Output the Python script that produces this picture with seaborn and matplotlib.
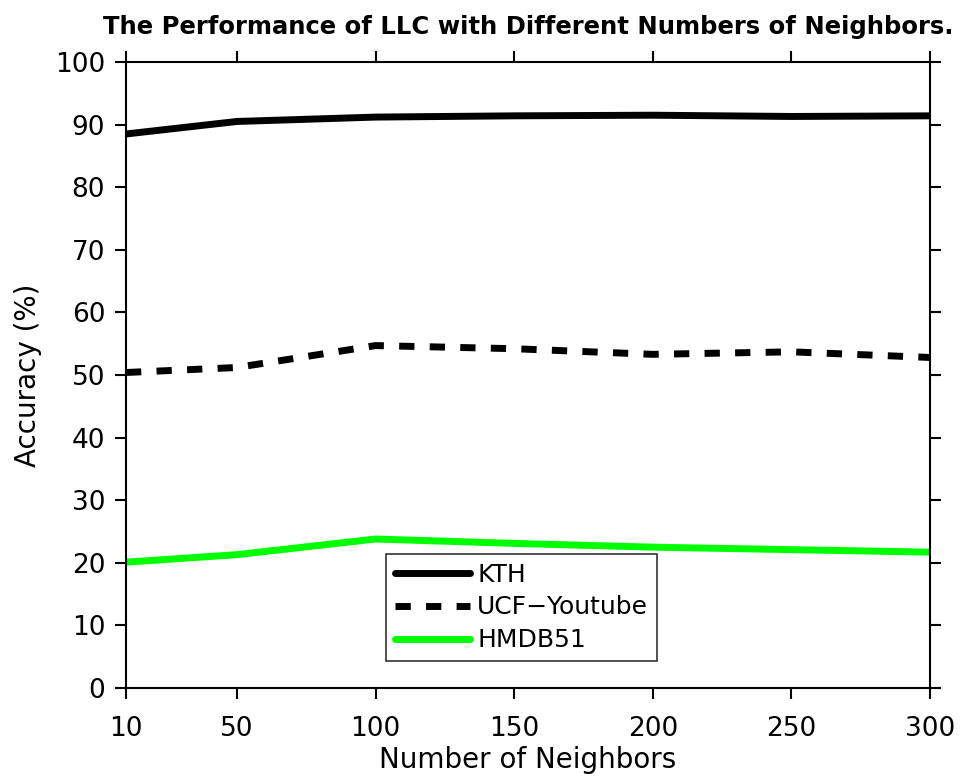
import matplotlib
matplotlib.use("Agg")
import matplotlib.pyplot as plt
import seaborn as sns
import pandas as pd

neighbors = [10, 50, 100, 150, 200, 250, 300]
kth = [88.5, 90.5, 91.2, 91.4, 91.5, 91.3, 91.4]
ucf = [50.4, 51.2, 54.7, 54.2, 53.3, 53.7, 52.8]
hmdb = [20.1, 21.3, 23.8, 23.1, 22.5, 22.1, 21.7]
series_names = ["KTH", "UCF\u2212Youtube", "HMDB51"]

df = pd.DataFrame({
    "Number of Neighbors": neighbors * 3,
    "Accuracy": kth + ucf + hmdb,
    "Dataset": [series_names[0]] * 7 + [series_names[1]] * 7 + [series_names[2]] * 7,
})

sns.set_style("white")
plt.rcParams["font.family"] = ["DejaVu Sans"]
plt.rcParams["text.color"] = "black"
plt.rcParams["axes.labelcolor"] = "black"

fig = plt.figure(figsize=(9.65, 7.83), dpi=100)
ax = fig.add_axes([126 / 965, 1 - 688 / 783, 804 / 965, 626 / 783])

palette = {series_names[0]: "black", series_names[1]: "black", series_names[2]: "#00ff00"}
dashes = {series_names[0]: "", series_names[1]: (2.2, 2.2), series_names[2]: ""}
sns.lineplot(data=df, x="Number of Neighbors", y="Accuracy", hue="Dataset",
             style="Dataset", palette=palette, dashes=dashes, linewidth=5,
             ax=ax, legend=True)

ax.set_xlim(10, 300)
ax.set_ylim(0, 100)
ax.set_xticks([10, 50, 100, 150, 200, 250, 300])
ax.set_yticks(range(0, 101, 10))
ax.tick_params(axis="both", which="both", direction="out", length=8, width=1.5,
               labelsize=19, top=True, right=True, bottom=True, left=True,
               colors="black", labelcolor="black")
ax.tick_params(axis="x", pad=12)
ax.tick_params(axis="y", pad=7)
for s in ax.spines.values():
    s.set_visible(True)
    s.set_color("black")
    s.set_linewidth(1.5)

ax.set_xlabel("Number of Neighbors", fontsize=20, labelpad=3, color="black")
ax.set_ylabel("Accuracy (%)", fontsize=20, labelpad=9, color="black")
ax.set_title("The Performance of LLC with Different Numbers of Neighbors.",
             fontsize=17.5, fontweight="bold", pad=20, color="black")

leg = ax.legend(loc="lower left", bbox_to_anchor=((386 - 126) / 804, (688 - 661) / 626),
                fontsize=18, frameon=True, fancybox=False, handlelength=3.0,
                borderpad=0.35, labelspacing=0.35, handletextpad=0.3,
                borderaxespad=0)
leg.get_frame().set_edgecolor("black")
leg.get_frame().set_linewidth(1.2)
for h in leg.get_lines():
    h.set_linewidth(5)
for t in leg.get_texts():
    t.set_color("black")

fig.savefig("out.png", dpi=100)
